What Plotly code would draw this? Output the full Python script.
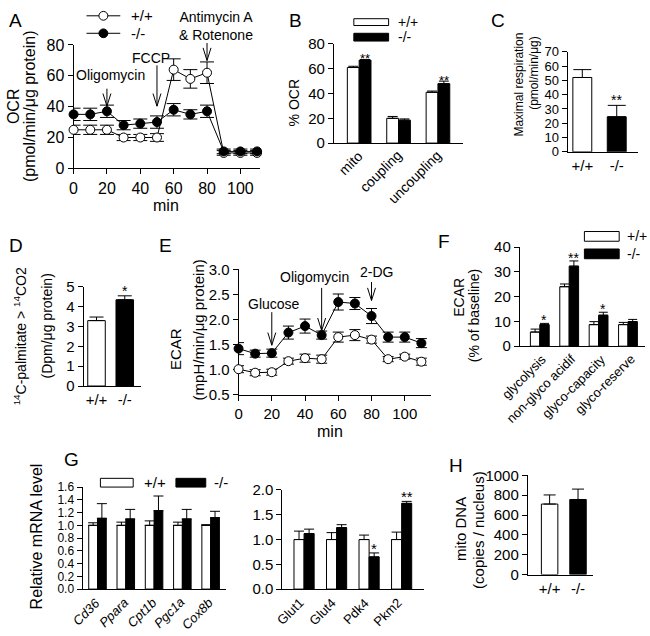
import plotly.graph_objects as go

W, H = 650, 636
FONT = "Liberation Sans, Arial, sans-serif"

# ---------------- data ----------------
time_min = [0, 10, 20, 30, 40, 50, 60, 70, 80, 90, 100, 110]
ocr_wt = [25, 25, 25, 20, 20, 20, 64, 58, 62, 10, 10, 10]
ocr_wt_err = [3, 3, 3, 2, 2, 2.5, 7, 6, 7, 1.5, 1.5, 1.5]
ocr_ko = [35, 35, 37, 28, 29, 30, 38, 35, 37, 11, 11, 11]
ocr_ko_err = [4, 4, 4, 3, 3, 4, 4, 3, 4, 1.5, 1.5, 1.5]

ocr_parts = ["mito", "coupling", "uncoupling"]
pct_ocr_wt = [61, 20, 41]
pct_ocr_wt_err = [1, 1.5, 1]
pct_ocr_ko = [67, 18.5, 48]
pct_ocr_ko_err = [0.5, 1, 2]
pct_ocr_sig = ["**", "", "**"]

genotypes = ["+/+", "-/-"]
max_resp = [52, 24.5]
max_resp_err = [5.5, 8]
max_resp_sig = ["", "**"]

palm_ox = [3.3, 4.35]
palm_ox_err = [0.18, 0.2]
palm_sig = ["", "*"]

ecar_wt = [1.01, 0.94, 0.95, 1.17, 1.23, 1.21, 1.65, 1.69, 1.60, 1.21, 1.26, 1.16]
ecar_wt_err = [0.07, 0.06, 0.06, 0.06, 0.08, 0.08, 0.1, 0.11, 0.07, 0.05, 0.05, 0.07]
ecar_ko = [1.42, 1.32, 1.33, 1.74, 1.87, 1.69, 2.35, 2.32, 2.07, 1.65, 1.65, 1.53]
ecar_ko_err = [0.12, 0.07, 0.08, 0.13, 0.14, 0.08, 0.16, 0.12, 0.15, 0.1, 0.1, 0.09]

glyco_params = ["glycolysis", "non-glyco acidif", "glyco-capacity", "glyco-reserve"]
ecar_pct_wt = [5.7, 24, 8.7, 8.7]
ecar_pct_wt_err = [1.2, 1.1, 1.2, 0.9]
ecar_pct_ko = [8.7, 32.3, 12.5, 9.9]
ecar_pct_ko_err = [0.5, 2.1, 1.2, 0.9]
ecar_pct_sig = ["*", "**", "*", ""]

genes_fa = ["Cd36", "Ppara", "Cpt1b", "Pgc1a", "Cox8b"]
mrna_fa_wt = [1, 1, 1, 1, 1]
mrna_fa_wt_err = [0.04, 0.05, 0.07, 0.05, 0.01]
mrna_fa_ko = [1.11, 1.10, 1.23, 1.10, 1.12]
mrna_fa_ko_err = [0.23, 0.15, 0.23, 0.15, 0.10]

genes_gl = ["Glut1", "Glut4", "Pdk4", "Pkm2"]
mrna_gl_wt = [1, 1, 1, 1]
mrna_gl_wt_err = [0.17, 0.14, 0.09, 0.15]
mrna_gl_ko = [1.12, 1.24, 0.65, 1.73]
mrna_gl_ko_err = [0.09, 0.06, 0.08, 0.04]
mrna_gl_sig = ["", "", "*", "**"]

mtdna = [711, 757]
mtdna_err = [92, 105]

# ---------------- layout helpers ----------------
def px(x):
    return x / W

def py(y):
    return 1 - y / H

panels = {
    "A": dict(n=1, x=(70, 258), y=(37, 164), xr=[0, 112], yr=[0, 80], dt=20, tf=16),
    "B": dict(n=2, x=(332, 462), y=(36, 138), xr=[-0.64, 2.64], yr=[0, 80], dt=20, tf=15),
    "C": dict(n=3, x=(567, 638), y=(44, 147), xr=[-0.43, 1.62], yr=[0, 70], dt=10, tf=13),
    "D": dict(n=4, x=(80, 138), y=(286, 388), xr=[-0.46, 1.58], yr=[0, 5], dt=1, tf=15),
    "E": dict(n=5, x=(236, 430), y=(268, 397), xr=[0, 116], yr=[0.5, 3.0], dt=0.5, tf=15, fmt=".1f"),
    "F": dict(n=6, x=(519, 645), y=(245, 347), xr=[-0.68, 3.58], yr=[0, 40], dt=10, tf=15),
    "G1": dict(n=7, x=(79, 223), y=(492, 597), xr=[-0.53, 4.53], yr=[0, 1.6], dt=0.2, tf=12, fmt=".1f"),
    "G2": dict(n=8, x=(280, 423), y=(495, 597), xr=[-0.67, 3.7], yr=[0, 2.0], dt=0.5, tf=15, fmt=".1f"),
    "H": dict(n=9, x=(527, 593), y=(480, 582), xr=[-0.77, 1.54], yr=[0, 1000], dt=200, tf=15),
}

def xref(p):
    n = panels[p]["n"]
    return "x" if n == 1 else f"x{n}"

def yref(p):
    n = panels[p]["n"]
    return "y" if n == 1 else f"y{n}"

def data_px_x(p, v):
    d = panels[p]
    return d["x"][0] + (v - d["xr"][0]) / (d["xr"][1] - d["xr"][0]) * (d["x"][1] - d["x"][0])

def data_px_y(p, v):
    d = panels[p]
    return d["y"][1] - (v - d["yr"][0]) / (d["yr"][1] - d["yr"][0]) * (d["y"][1] - d["y"][0])

fig = go.Figure()
annotations = []
shapes = []

def text(x, y, s, size=14, angle=0, xanchor="center", yanchor="middle"):
    annotations.append(dict(x=px(x), y=py(y), xref="paper", yref="paper", text=s, showarrow=False,
                            font=dict(size=size, color="black", family=FONT), textangle=angle,
                            xanchor=xanchor, yanchor=yanchor, borderpad=0))

def arrow(p, t, ytop, ytip, hw=4, hh=13):
    xp = data_px_x(p, t)
    path = (f"M{px(xp)},{py(ytop)} L{px(xp)},{py(ytip)} "
            f"M{px(xp - hw)},{py(ytip - hh)} L{px(xp)},{py(ytip)} L{px(xp + hw)},{py(ytip - hh)}")
    shapes.append(dict(type="path", path=path, xref="paper", yref="paper",
                       line=dict(color="black", width=1)))

def err(arr, w, up_only=True):
    d = dict(type="data", array=arr, color="black", thickness=1, width=w, visible=True)
    if up_only:
        d["symmetric"] = False
        d["arrayminus"] = [0] * len(arr)
    return d

def rot_labels(p, labels, dx, dy, size):
    for i, lab in enumerate(labels):
        xp = data_px_x(p, i) + dx
        yp = panels[p]["y"][1] + dy
        text(xp, yp, lab, size, -45, xanchor="right", yanchor="top")

# ---------------- A: OCR time course ----------------
for vals, errs, fill in [(ocr_wt, ocr_wt_err, "white"), (ocr_ko, ocr_ko_err, "black")]:
    fig.add_trace(go.Scatter(x=time_min, y=vals, xaxis=xref("A"), yaxis=yref("A"),
                             mode="lines+markers", cliponaxis=False,
                             line=dict(color="black", width=1),
                             marker=dict(symbol="circle", size=9, color=fill, line=dict(color="black", width=1)),
                             error_y=err(errs, 7, up_only=False), showlegend=False))

# ---------------- E: ECAR time course ----------------
for vals, errs, fill in [(ecar_wt, ecar_wt_err, "white"), (ecar_ko, ecar_ko_err, "black")]:
    fig.add_trace(go.Scatter(x=time_min, y=vals, xaxis=xref("E"), yaxis=yref("E"),
                             mode="lines+markers", cliponaxis=False,
                             line=dict(color="black", width=1),
                             marker=dict(symbol="circle", size=9, color=fill, line=dict(color="black", width=1)),
                             error_y=err(errs, 5.5, up_only=False), showlegend=False))

# ---------------- bars ----------------
def grouped(p, cats, wt, wt_e, ko, ko_e, w, cw, sig=None, sig_size=14, sig_gap=5):
    pos = list(range(len(cats)))
    for vals, errs, col, off in [(wt, wt_e, "white", -w), (ko, ko_e, "black", 0)]:
        fig.add_trace(go.Bar(x=pos, y=vals, width=w, offset=off, xaxis=xref(p), yaxis=yref(p),
                             marker=dict(color=col, line=dict(color="black", width=1)),
                             error_y=err(errs, cw), showlegend=False, cliponaxis=False))
    if sig:
        for i, s in enumerate(sig):
            if s:
                xp = data_px_x(p, pos[i] + w / 2)
                yp = data_px_y(p, ko[i] + ko_e[i]) - sig_gap
                text(xp, yp + 3, s, size=sig_size)

def single(p, vals, errs, w, cw, sig=None, sig_size=14, sig_gap=8):
    pos = list(range(len(vals)))
    fig.add_trace(go.Bar(x=pos, y=vals, width=w, xaxis=xref(p), yaxis=yref(p),
                         marker=dict(color=["white", "black"], line=dict(color="black", width=1)),
                         error_y=err(errs, cw), showlegend=False, cliponaxis=False))
    if sig:
        for i, s in enumerate(sig):
            if s:
                xp = data_px_x(p, pos[i])
                yp = data_px_y(p, vals[i] + errs[i]) - sig_gap
                text(xp, yp + 3, s, size=sig_size)

grouped("B", ocr_parts, pct_ocr_wt, pct_ocr_wt_err, pct_ocr_ko, pct_ocr_ko_err, 0.30, 5, pct_ocr_sig, 13, 4)
single("C", max_resp, max_resp_err, 0.55, 9, max_resp_sig, 14, 9)
single("D", palm_ox, palm_ox_err, 0.62, 7, palm_sig, 14, 8)
grouped("F", glyco_params, ecar_pct_wt, ecar_pct_wt_err, ecar_pct_ko, ecar_pct_ko_err, 0.32, 4.5, ecar_pct_sig, 14, 6)
grouped("G1", genes_fa, mrna_fa_wt, mrna_fa_wt_err, mrna_fa_ko, mrna_fa_ko_err, 0.31, 5)
grouped("G2", genes_gl, mrna_gl_wt, mrna_gl_wt_err, mrna_gl_ko, mrna_gl_ko_err, 0.31, 5, mrna_gl_sig, 15, 8)
single("H", mtdna, mtdna_err, 0.58, 6)

# ---------------- axes ----------------
layout = dict(width=W, height=H, margin=dict(l=0, r=0, t=0, b=0), paper_bgcolor="white",
              plot_bgcolor="rgba(0,0,0,0)", barmode="overlay", showlegend=False,
              font=dict(family=FONT, color="black"))

straight_labels = {"C": genotypes, "D": genotypes, "H": genotypes}

for p, d in panels.items():
    n = d["n"]
    sx = "" if n == 1 else str(n)
    ya = dict(domain=[py(d["y"][1]), py(d["y"][0])], range=d["yr"], anchor=f"x{sx}",
              showline=True, linecolor="black", linewidth=1, ticks="outside", ticklen=5,
              tickcolor="black", tickwidth=1, showgrid=False, zeroline=False,
              tick0=d["yr"][0], dtick=d["dt"], tickfont=dict(size=d["tf"], family=FONT, color="black"),
              layer="below traces")
    if "fmt" in d:
        ya["tickformat"] = d["fmt"]
    xa = dict(domain=[px(d["x"][0]), px(d["x"][1])], range=d["xr"], anchor=f"y{sx}",
              showline=True, linecolor="black", linewidth=1, showgrid=False, zeroline=False,
              tickfont=dict(size=d["tf"], family=FONT, color="black"), layer="below traces")
    if p in ("A", "E"):
        xa.update(ticks="outside", ticklen=5, tickcolor="black", tickwidth=1,
                  tickvals=[0, 20, 40, 60, 80, 100])
    elif p in straight_labels:
        labels = straight_labels[p]
        xa.update(ticks="", tickvals=list(range(len(labels))), ticktext=labels,
                  tickfont=dict(size=15, family=FONT, color="black"))
    else:
        xa.update(ticks="", tickvals=[], showticklabels=False)
    layout[f"xaxis{sx}"] = xa
    layout[f"yaxis{sx}"] = ya

# rotated category labels
rot_labels("B", ocr_parts, 8, 3, 14)
rot_labels("F", glyco_params, 11, 4, 13)
rot_labels("G1", [f"<i>{g}</i>" for g in genes_fa], 7, 4, 13)
rot_labels("G2", genes_gl, 4, 5, 13)

# ---------------- text: panel letters ----------------
for letter, (x, y) in {"A": (12, 12), "B": (293, 12), "C": (497, 12), "D": (12, 243),
                       "E": (163, 243), "F": (443, 239), "G": (68, 464), "H": (455, 470)}.items():
    text(x, y, letter, size=19)

# A
text(9, 100, "OCR", 16, -90)
text(25, 100, "(pmol/min/μg protein)", 16, -90)
text(163, 202, "min", 16)
text(107, 68, "Oligomycin", 14)
arrow("A", 20, 82, 100)
text(148, 50, "FCCP", 14)
arrow("A", 50, 58, 100)
text(213, 17, "Antimycin A<br>& Rotenone", 14)
arrow("A", 80, 35, 53)
for yy, fill, lab in [(7, "white", "+/+"), (25, "black", "-/-")]:
    shapes.append(dict(type="line", xref="paper", yref="paper", x0=px(83), x1=px(117), y0=py(yy), y1=py(yy),
                       line=dict(color="black", width=1)))
    shapes.append(dict(type="circle", xref="paper", yref="paper", x0=px(95.5), x1=px(104.5),
                       y0=py(yy + 4.5), y1=py(yy - 4.5), fillcolor=fill, line=dict(color="black", width=1)))
    text(127, yy, lab, 15, xanchor="left")

# B
text(292, 97, "% OCR", 14, -90)
for (y0, y1), fill, lab in [((10, 17), "white", "+/+"), ((25, 33), "black", "-/-")]:
    shapes.append(dict(type="rect", xref="paper", yref="paper", x0=px(352), x1=px(387), y0=py(y1), y1=py(y0),
                       fillcolor=fill, line=dict(color="black", width=1)))
    text(395, (y0 + y1) / 2, lab, 14, xanchor="left")

# C
text(518, 78, "Maximal respiration", 12, -90)
text(533, 66, "(pmol/min/μg)", 12, -90)

# D
text(17, 337, "<sup>14</sup>C-palmitate &gt; <sup>14</sup>CO2", 14, -90)
text(43, 326, "(Dpm/μg protein)", 14, -90)

# E
text(172, 350, "ECAR", 15, -90)
text(196, 330, "(mpH/min/μg protein)", 15, -90)
text(328, 435, "min", 16)
text(272, 304, "Glucose", 14)
arrow("E", 20, 312, 346)
text(312, 276, "Oligomycin", 14)
arrow("E", 50, 287, 331)
text(375, 271, "2-DG", 14)
arrow("E", 80, 281, 300)

# F
text(457, 297, "ECAR", 14, -90)
text(473, 316, "(% of baseline)", 14, -90)
for (y0, y1), fill, lab in [((229, 239), "white", "+/+"), ((247, 257), "black", "-/-")]:
    shapes.append(dict(type="rect", xref="paper", yref="paper", x0=px(584), x1=px(619), y0=py(y1), y1=py(y0),
                       fillcolor=fill, line=dict(color="black", width=1)))
    text(626, (y0 + y1) / 2, lab, 14, xanchor="left")

# G
text(33, 543, "Relative mRNA level", 16, -90)
shapes.append(dict(type="rect", xref="paper", yref="paper", x0=px(97), x1=px(130), y0=py(492), y1=py(483),
                   fillcolor="white", line=dict(color="black", width=1)))
text(140, 487, "+/+", 15, xanchor="left")
shapes.append(dict(type="rect", xref="paper", yref="paper", x0=px(173), x1=px(203), y0=py(492), y1=py(483),
                   fillcolor="black", line=dict(color="black", width=1)))
text(210, 487, "-/-", 15, xanchor="left")

# H
text(460, 535, "mito DNA", 15, -90)
text(478, 536, "(copies / nucleus)", 15, -90)

layout["annotations"] = annotations
layout["shapes"] = shapes
fig.update_layout(**layout)
fig.write_html("out.html", config={"displayModeBar": False},
               post_script="document.body.style.margin='0px';")
